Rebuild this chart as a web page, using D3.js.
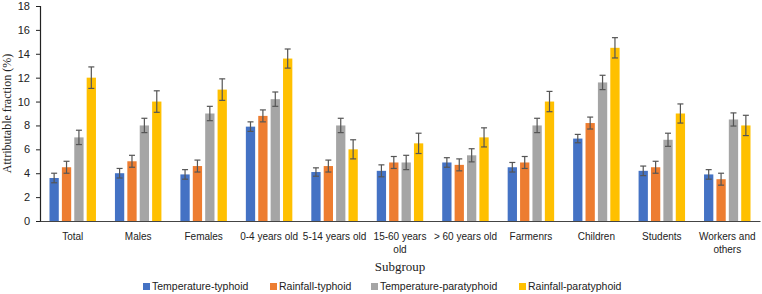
<!DOCTYPE html>
<html>
<head>
<meta charset="utf-8">
<script src="https://cdn.jsdelivr.net/npm/d3@7"></script>
<style>
  body { margin: 0; background: #fff; }
  svg text { font-family: "Liberation Sans", Arial, sans-serif; }
</style>
</head>
<body>
<div id="chart"></div>
<script>
// data
const categories = ["Total", "Males", "Females", "0-4 years old", "5-14 years old",
  "15-60 years old", "> 60 years old", "Farmenrs", "Children", "Students", "Workers and others"];
// how each tick label is broken into lines
const tickLines = [["Total"], ["Males"], ["Females"], ["0-4 years old"], ["5-14 years old"],
  ["15-60 years", "old"], ["> 60 years old"], ["Farmenrs"], ["Children"], ["Students"], ["Workers and", "others"]];
const seriesNames = ["Temperature-typhoid", "Rainfall-typhoid", "Temperature-paratyphoid", "Rainfall-paratyphoid"];

const tempTyphoid  = [3.6, 4.0, 3.9, 7.9, 4.1, 4.2, 4.9, 4.5, 6.9, 4.2, 3.9];
const rainTyphoid  = [4.5, 5.0, 4.6, 8.8, 4.6, 4.9, 4.7, 4.9, 8.2, 4.5, 3.5];
const tempPara     = [7.0, 8.0, 9.0, 10.2, 8.0, 4.9, 5.5, 8.0, 11.6, 6.8, 8.5];
const rainPara     = [12.0, 10.0, 11.0, 13.6, 6.0, 6.5, 7.0, 10.0, 14.5, 9.0, 8.0];

const tempTyphoidErr = [0.4, 0.4, 0.4, 0.4, 0.35, 0.5, 0.4, 0.4, 0.35, 0.4, 0.4];
const rainTyphoidErr = [0.5, 0.5, 0.5, 0.5, 0.5, 0.5, 0.5, 0.5, 0.5, 0.5, 0.5];
const tempParaErr    = [0.6, 0.6, 0.6, 0.6, 0.6, 0.6, 0.55, 0.6, 0.6, 0.55, 0.55];
const rainParaErr    = [0.9, 0.9, 0.9, 0.8, 0.8, 0.85, 0.8, 0.85, 0.85, 0.8, 0.85];

const yTicks = [0, 2, 4, 6, 8, 10, 12, 14, 16, 18];
const colors = ["#4472C4", "#ED7D31", "#A5A5A5", "#FFC000"];

const values = [tempTyphoid, rainTyphoid, tempPara, rainPara];
const errors = [tempTyphoidErr, rainTyphoidErr, tempParaErr, rainParaErr];

const W = 762, H = 294;
const margin = {top: 6, left: 40, bottom: 73, right: 2};

const svg = d3.select("#chart").append("svg")
  .attr("width", W).attr("height", H);

const x0 = d3.scaleBand()
  .domain(categories)
  .range([margin.left, W - margin.right])
  .padding(0);

const groupW = x0.bandwidth() * 0.71;
const x1 = d3.scaleBand()
  .domain(seriesNames)
  .range([0, groupW])
  .paddingInner(0.25)
  .paddingOuter(0);

const y = d3.scaleLinear()
  .domain([0, 18])
  .range([H - margin.bottom, margin.top]);

// rows of bars
const rows = [];
categories.forEach((c, i) => {
  seriesNames.forEach((s, j) => {
    rows.push({cat: c, series: s, idx: j, v: values[j][i], e: errors[j][i]});
  });
});

const gx = c => x0(c) + (x0.bandwidth() - groupW) / 2;

svg.append("g").selectAll("rect")
  .data(rows)
  .enter()
  .append("rect")
  .attr("x", d => gx(d.cat) + x1(d.series))
  .attr("y", d => y(d.v))
  .attr("width", x1.bandwidth())
  .attr("height", d => y(0) - y(d.v))
  .attr("fill", d => colors[d.idx]);

// error bars
const eb = svg.append("g")
  .attr("stroke", "#555")
  .attr("stroke-width", 1.2);

rows.forEach(d => {
  const cx = gx(d.cat) + x1(d.series) + x1.bandwidth() / 2;
  eb.append("line").attr("x1", cx).attr("x2", cx)
    .attr("y1", y(d.v + d.e)).attr("y2", y(d.v - d.e));
  eb.append("line").attr("x1", cx - 3).attr("x2", cx + 3)
    .attr("y1", y(d.v + d.e)).attr("y2", y(d.v + d.e));
  eb.append("line").attr("x1", cx - 3).attr("x2", cx + 3)
    .attr("y1", y(d.v - d.e)).attr("y2", y(d.v - d.e));
});

// y axis
const yAxis = d3.axisLeft(y).tickValues(yTicks).tickSize(4).tickPadding(6);
const gy = svg.append("g")
  .attr("transform", `translate(${margin.left},0)`)
  .call(yAxis);
gy.select(".domain").attr("stroke", "#222").attr("stroke-width", 1.2);
gy.selectAll(".tick line").attr("stroke", "#222");
gy.selectAll("text").attr("font-size", 11).attr("fill", "#222")
  .attr("font-family", "Liberation Sans, Arial, sans-serif");

// x axis
const xAxis = d3.axisBottom(x0).tickSize(0).tickFormat("");
const gxa = svg.append("g")
  .attr("transform", `translate(0,${y(0)})`)
  .call(xAxis);
gxa.select(".domain").attr("stroke", "#444").attr("stroke-width", 1.2);

gxa.selectAll(".tick").each(function(d, i) {
  const t = d3.select(this).append("text")
    .attr("fill", "#222")
    .attr("font-size", 10)
    .attr("text-anchor", "middle")
    .attr("y", 19);
  tickLines[i].forEach((ln, k) => {
    t.append("tspan").attr("x", 0).attr("dy", k === 0 ? 0 : 13).text(ln);
  });
});

// axis titles
svg.append("text")
  .attr("transform", `translate(11,${(y(0) + y(18)) / 2}) rotate(-90)`)
  .attr("text-anchor", "middle")
  .style("font-family", "Liberation Serif, Times New Roman, serif")
  .attr("font-size", 12)
  .attr("fill", "#222")
  .text("Attributable fraction (%)");

svg.append("text")
  .attr("x", (margin.left + W - margin.right) / 2)
  .attr("y", 271)
  .attr("text-anchor", "middle")
  .style("font-family", "Liberation Serif, Times New Roman, serif")
  .attr("font-size", 13)
  .attr("fill", "#222")
  .text("Subgroup");

// legend
const legendX = [143, 270, 371, 519];
const lg = svg.append("g").selectAll("g")
  .data(seriesNames)
  .enter()
  .append("g")
  .attr("transform", (d, i) => `translate(${legendX[i]},287)`);
lg.append("rect")
  .attr("x", 0).attr("y", -4).attr("width", 7).attr("height", 7)
  .attr("fill", (d, i) => colors[i]);
lg.append("text")
  .attr("x", 9).attr("y", 0)
  .attr("dominant-baseline", "middle")
  .attr("font-size", 10.5)
  .attr("fill", "#222")
  .text(d => d);
</script>
</body>
</html>
